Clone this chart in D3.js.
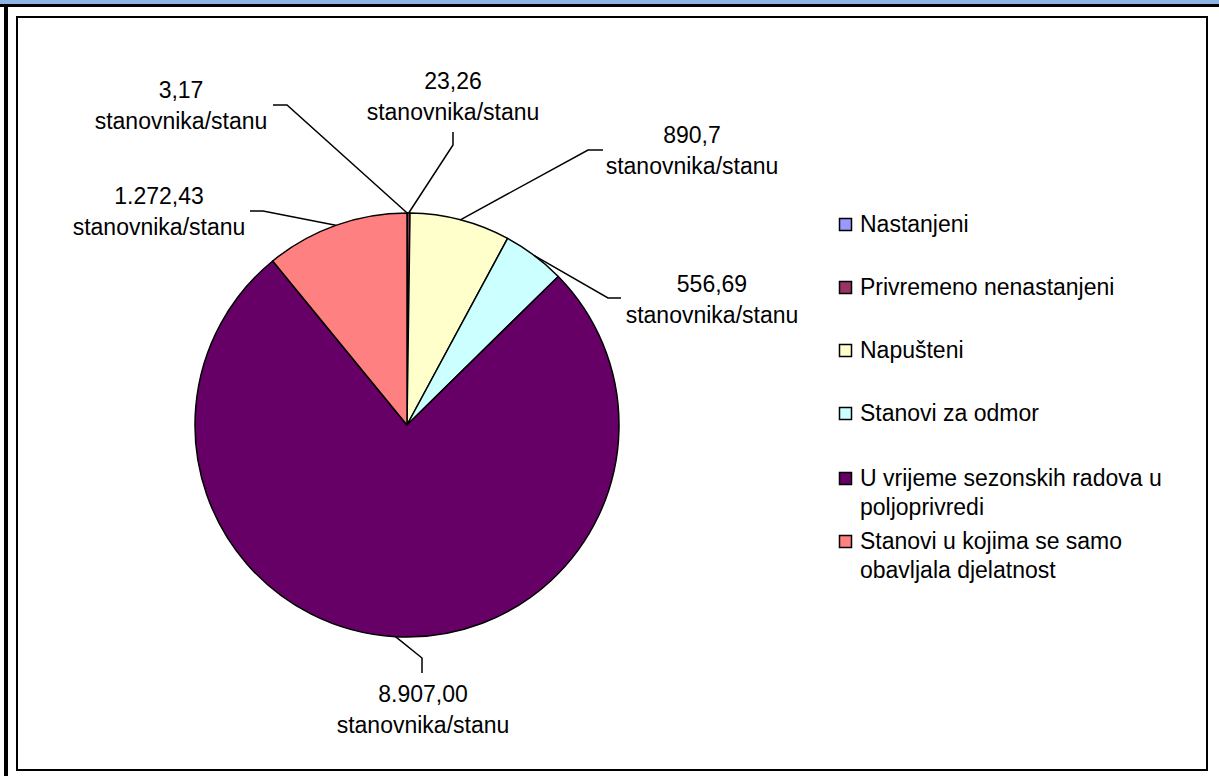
<!DOCTYPE html>
<html>
<head>
<meta charset="utf-8">
<script src="https://cdn.jsdelivr.net/npm/d3@7"></script>
<style>
  html, body { margin: 0; padding: 0; background: #fff; }
  svg { display: block; }
  text { font-family: "Liberation Sans", Arial, sans-serif; fill: #000; }
</style>
</head>
<body>
<svg id="chart" width="1219" height="776"></svg>
<script>
// ---- data ----
const categories = [
  "Nastanjeni",
  "Privremeno nenastanjeni",
  "Napušteni",
  "Stanovi za odmor",
  "U vrijeme sezonskih radova u poljoprivredi",
  "Stanovi u kojima se samo obavljala djelatnost"
];
const values = [3.17, 23.26, 890.7, 556.69, 8907.00, 1272.43];
const valueLabels = ["3,17", "23,26", "890,7", "556,69", "8.907,00", "1.272,43"];
const unitLabel = "stanovnika/stanu";
const legendLines = [
  ["Nastanjeni"],
  ["Privremeno nenastanjeni"],
  ["Napušteni"],
  ["Stanovi za odmor"],
  ["U vrijeme sezonskih radova u", "poljoprivredi"],
  ["Stanovi u kojima se samo", "obavljala djelatnost"]
];
const colors = ["#9999FF", "#993366", "#FFFFCC", "#CCFFFF", "#660066", "#FF8080"];

// ---- layout (label offsets relative to pie centre) ----
const labelLayout = [
  { tx: -226, ty: -327, elbow: [-120, -320], end: [-134, -320] },
  { tx: 46,   ty: -336, elbow: [46, -280],   end: [46, -293] },
  { tx: 285,  ty: -282, elbow: [181, -275],  end: [196, -275] },
  { tx: 305,  ty: -133, elbow: [201, -127],  end: [214, -127] },
  { tx: 16,   ty: 277,  elbow: [15, 233],    end: [15, 248] },
  { tx: -248, ty: -221, elbow: [-144, -214], end: [-157, -214] }
];
const legendRows = [218, 281, 344, 407, 472, 535];

const svg = d3.select("#chart");
const W = 1219, H = 776;

// page decorations
svg.append("rect").attr("x", 0).attr("y", 0).attr("width", W).attr("height", 4).attr("fill", "#8DB3E2");
svg.append("rect").attr("x", 0).attr("y", 4).attr("width", W).attr("height", 3).attr("fill", "#000");
svg.append("rect").attr("x", 4).attr("y", 4).attr("width", 4).attr("height", H - 4).attr("fill", "#000");

// chart area box
svg.append("rect").attr("x", 17).attr("y", 17).attr("width", 1190).attr("height", 753)
  .attr("fill", "#fff").attr("stroke", "#000").attr("stroke-width", 2);

// pie
const cx = 407, cy = 425, R = 212;
const pie = d3.pie().sort(null).value(d => d).startAngle(0).endAngle(2 * Math.PI);
const arcs = pie(values);
const arc = d3.arc().innerRadius(0).outerRadius(R);
const edgeArc = d3.arc().innerRadius(R).outerRadius(R);
const color = d3.scaleOrdinal().domain(categories).range(colors);

const g = svg.append("g").attr("transform", `translate(${cx},${cy})`);
g.selectAll("path.slice").data(arcs).enter().append("path")
  .attr("class", "slice")
  .attr("d", arc)
  .attr("fill", (d, i) => color(categories[i]))
  .attr("stroke", "#000")
  .attr("stroke-width", 1.5)
  .attr("stroke-linejoin", "round");

// leader lines
g.selectAll("polyline.leader").data(arcs).enter().append("polyline")
  .attr("class", "leader")
  .attr("points", (d, i) => {
    const s = edgeArc.centroid(d);
    const L = labelLayout[i];
    return [s, L.elbow, L.end].map(p => p.join(",")).join(" ");
  })
  .attr("fill", "none")
  .attr("stroke", "#000")
  .attr("stroke-width", 1.5);

// data labels
const lbl = g.selectAll("text.lbl").data(arcs).enter().append("text")
  .attr("class", "lbl")
  .attr("text-anchor", "middle")
  .attr("font-size", 23)
  .attr("x", (d, i) => labelLayout[i].tx)
  .attr("y", (d, i) => labelLayout[i].ty);
lbl.append("tspan").attr("x", (d, i) => labelLayout[i].tx).text((d, i) => valueLabels[i]);
lbl.append("tspan").attr("x", (d, i) => labelLayout[i].tx).attr("dy", 31).text(unitLabel);

// legend
const lg = svg.append("g");
categories.forEach((c, i) => {
  const y = legendRows[i];
  lg.append("rect").attr("x", 839.5).attr("y", y + 0.5).attr("width", 12).attr("height", 12)
    .attr("fill", color(c)).attr("stroke", "#000").attr("stroke-width", 1.5);
  const t = lg.append("text").attr("font-size", 23).attr("x", 860).attr("y", y + 14);
  legendLines[i].forEach((line, j) => {
    t.append("tspan").attr("x", 860).attr("dy", j === 0 ? 0 : 29).text(line);
  });
});
</script>
</body>
</html>
